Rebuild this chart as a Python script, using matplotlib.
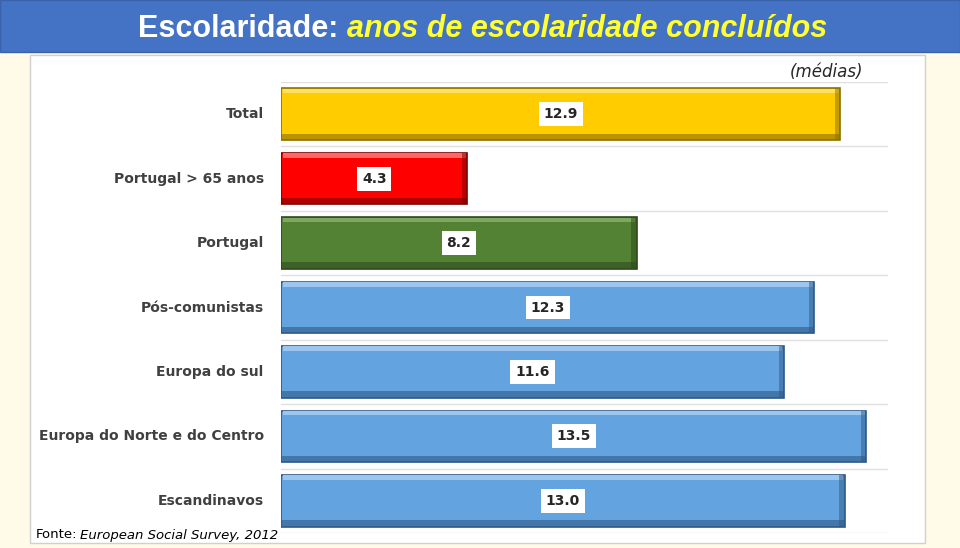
import matplotlib.pyplot as plt
from matplotlib.patches import Rectangle

# dados
categorias = ["Total", "Portugal > 65 anos", "Portugal", "Pós-comunistas",
              "Europa do sul", "Europa do Norte e do Centro", "Escandinavos"]
valores = [12.9, 4.3, 8.2, 12.3, 11.6, 13.5, 13.0]
cores = ["#FFCC00", "#FF0000", "#548235", "#62A3E0", "#62A3E0", "#62A3E0", "#62A3E0"]
cores_escuras = ["#8C7000", "#7A0000", "#2E4A1C", "#2F5A86", "#2F5A86", "#2F5A86", "#2F5A86"]
cores_claras = ["#FFE066", "#FF6666", "#7FA860", "#9CC6EE", "#9CC6EE", "#9CC6EE", "#9CC6EE"]

fig = plt.figure(figsize=(9.6, 5.48), dpi=100)
fig.patch.set_facecolor("#FFFBE8")

# faixa do título
fig.patches.append(Rectangle((0, 1 - 52 / 548), 1, 52 / 548, transform=fig.transFigure,
                             facecolor="#4472C4", edgecolor="#3A62A8", lw=1, zorder=-2))
# área branca do gráfico
fig.patches.append(Rectangle((30 / 960, 5 / 548), 895 / 960, 488 / 548, transform=fig.transFigure,
                             facecolor="white", edgecolor="#D0D0D0", lw=1, zorder=-2))

titulo_font = ["Liberation Sans Narrow", "Liberation Sans", "DejaVu Sans"]
t1 = fig.text(138 / 960, 1 - 29 / 548, "Escolaridade: ", color="white", fontsize=22,
              fontweight="bold", family=titulo_font, va="center", ha="left")
fig.canvas.draw()
bb = t1.get_window_extent()
fig.text(bb.x1 / 960, 1 - 29 / 548, "anos de escolaridade concluídos", color="#FFFF33",
         fontsize=22, fontweight="bold", style="italic", family=titulo_font,
         va="center", ha="left")

ax = fig.add_axes([281 / 960, 15 / 548, 607 / 960, 451 / 548])
ax.set_xlim(0, 14)
n = len(categorias)
ax.set_ylim(n - 0.5, -0.5)
ax.axis("off")

altura = 0.8
for i, (v, c, ce, cc) in enumerate(zip(valores, cores, cores_escuras, cores_claras)):
    ax.barh(i, v, height=altura, color=c, edgecolor=ce, linewidth=1.2, zorder=2)
    # efeito de relevo
    ax.barh(i - altura / 2 + 0.04, v - 0.08, left=0.04, height=0.07, color=cc, lw=0, zorder=3)
    ax.barh(i + altura / 2 - 0.05, v, height=0.1, color=ce, lw=0, alpha=0.6, zorder=3)
    ax.barh(i, 0.12, left=v - 0.12, height=altura, color=ce, lw=0, alpha=0.5, zorder=3)
    ax.text(v / 2, i, f"{v:.1f}", ha="center", va="center", fontsize=10, fontweight="bold",
            color="#262626", zorder=4,
            bbox=dict(boxstyle="square,pad=0.35", facecolor="white", edgecolor="none"))
    ax.text(-0.4, i, categorias[i], ha="right", va="center", fontsize=10,
            fontweight="bold", color="#404040")

for y in [k - 0.5 for k in range(n + 1)]:
    ax.axhline(y, color="#E0E0E0", lw=1, zorder=1)

fig.text(826 / 960, 1 - 72 / 548, "(médias)", style="italic", fontsize=12,
         color="#262626", ha="center", va="center")
fig.text(36 / 960, 1 - 535 / 548, "Fonte:", fontsize=9.5, color="black",
         ha="left", va="center")
fig.text(80 / 960, 1 - 535 / 548, "European Social Survey, 2012", fontsize=9.5,
         style="italic", color="black", ha="left", va="center")

fig.savefig("out.png", dpi=100, facecolor=fig.get_facecolor())
